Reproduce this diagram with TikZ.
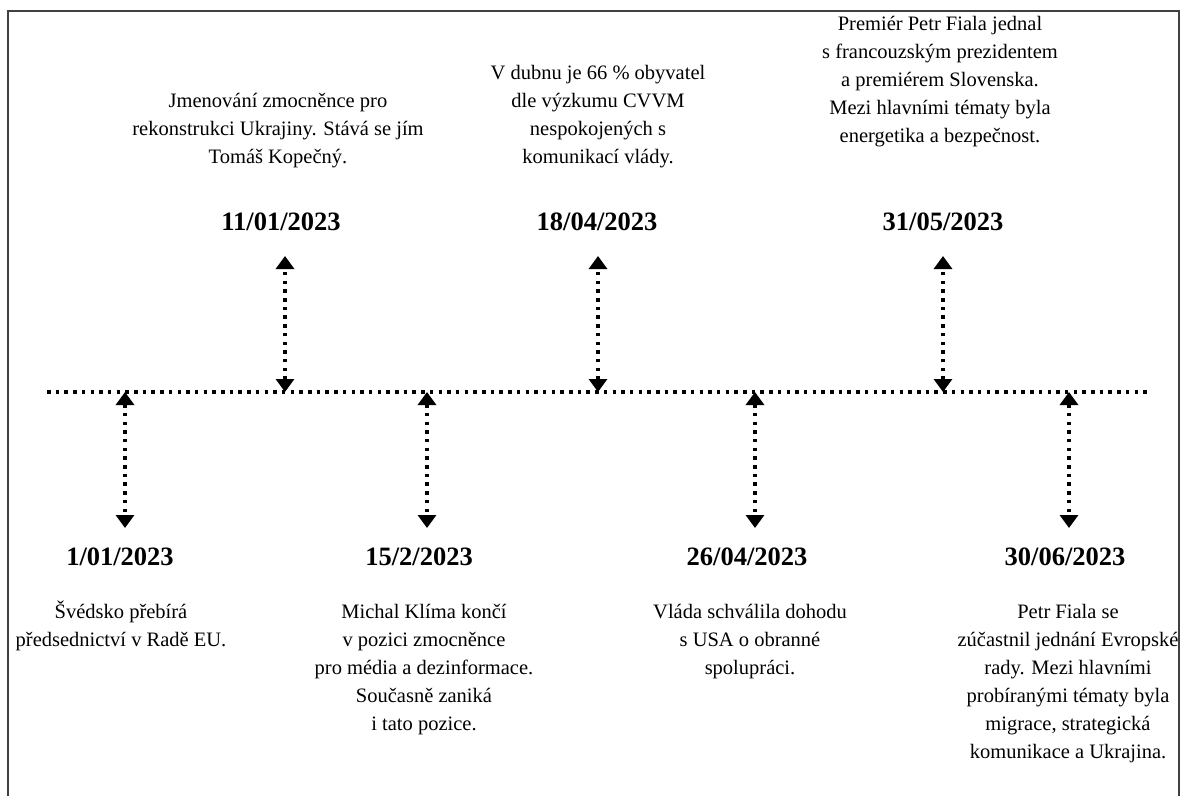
\documentclass[tikz,border=0pt]{standalone}
\usepackage{fontspec}
\setmainfont{Liberation Serif}
\usetikzlibrary{arrows.meta}
% centred block of lines whose baseline is the first line's baseline
\newcommand\evlines[1]{\begin{tabular}[t]{@{}c@{}}#1\end{tabular}}

\begin{document}
\begin{tikzpicture}[x=1pt,y=-1pt,
  frame/.style={draw=black!75, line width=1.4pt},
  axis/.style={line width=3.5pt, dash pattern=on 3.5pt off 5.2pt},
  link/.style={line width=3.5pt, dash pattern=on 3.5pt off 5.2pt,
    {Triangle[width=18pt,length=13pt]}-{Triangle[width=18pt,length=13pt]}},
  date/.style={font=\fontsize{26.5}{30}\selectfont\bfseries, anchor=base, inner sep=0pt},
  desc/.style={font=\fontsize{20.5}{28}\selectfont, anchor=base, inner sep=0pt}]

\useasboundingbox (0,0) rectangle (1182,796);

% open frame
\draw[frame] (8,796) -- (8,11) -- (1179,11) -- (1179,796);

% time axis
\coordinate (axL) at (47,392);
\coordinate (axR) at (1147,392);
\draw[axis] (axL) -- (axR);

% points on the axis and the free ends of the connectors
\coordinate (p1) at (125,392);  \coordinate (e1) at (125,528);
\coordinate (p2) at (285,392);  \coordinate (e2) at (285,256);
\coordinate (p3) at (427,392);  \coordinate (e3) at (427,528);
\coordinate (p4) at (598,392);  \coordinate (e4) at (598,256);
\coordinate (p5) at (755,392);  \coordinate (e5) at (755,528);
\coordinate (p6) at (943,392);  \coordinate (e6) at (943,256);
\coordinate (p7) at (1069,392); \coordinate (e7) at (1069,528);

\foreach \i in {1,...,7} \draw[link] (p\i) -- (e\i);

% dates
\node[date] (d1) at (120,565) {1/01/2023};
\node[date] (d2) at (281,230) {11/01/2023};
\node[date] (d3) at (419,565) {15/2/2023};
\node[date] (d4) at (597,230) {18/04/2023};
\node[date] (d5) at (747,565) {26/04/2023};
\node[date] (d6) at (943,230) {31/05/2023};
\node[date] (d7) at (1065,565) {30/06/2023};

% descriptions
\node[desc] (t1) at (121,618) {\evlines{Švédsko přebírá\\předsednictví v Radě EU.}};
\node[desc] (t2) at (278,107) {\evlines{Jmenování zmocněnce pro\\rekonstrukci Ukrajiny. Stává se jím\\Tomáš Kopečný.}};
\node[desc] (t3) at (424,618) {\evlines{Michal Klíma končí\\v pozici zmocněnce\\pro média a dezinformace.\\Současně zaniká\\i tato pozice.}};
\node[desc] (t4) at (598,79) {\evlines{V dubnu je 66 \% obyvatel\\dle výzkumu CVVM\\nespokojených s\\komunikací vlády.}};
\node[desc] (t5) at (750,618) {\evlines{Vláda schválila dohodu\\s USA o obranné\\spolupráci.}};
\node[desc] (t6) at (940,30) {\evlines{Premiér Petr Fiala jednal\\s francouzským prezidentem\\a premiérem Slovenska.\\Mezi hlavními tématy byla\\energetika a bezpečnost.}};
\node[desc] (t7) at (1068,618) {\evlines{Petr Fiala se\\zúčastnil jednání Evropské\\rady. Mezi hlavními\\probíranými tématy byla\\migrace, strategická\\komunikace a Ukrajina.}};
\end{tikzpicture}
\end{document}
